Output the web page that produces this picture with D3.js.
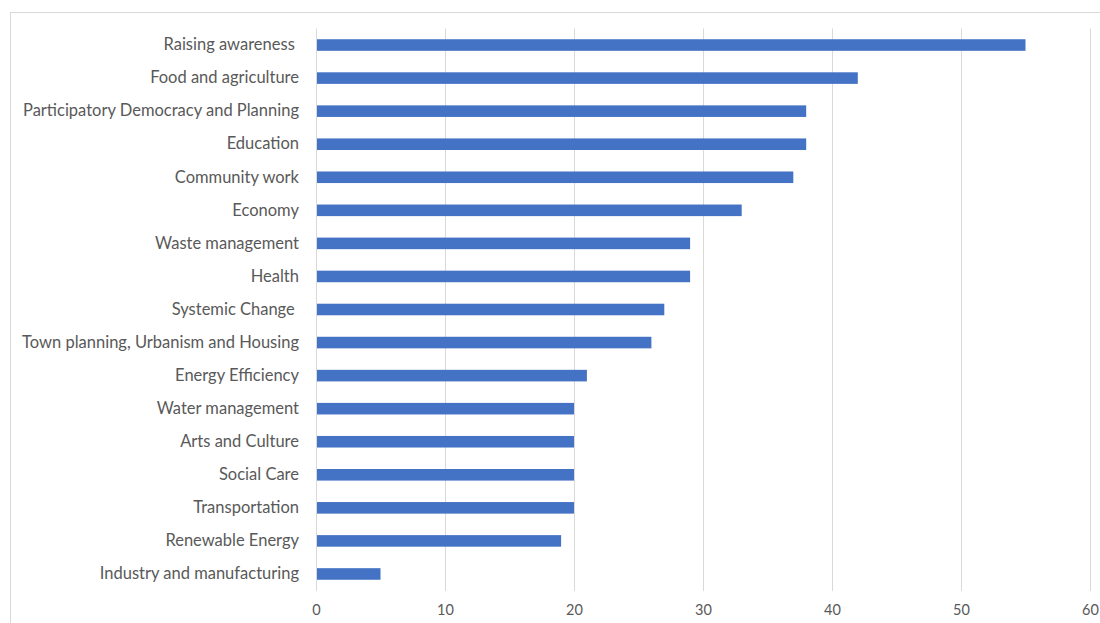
<!DOCTYPE html>
<html>
<head>
<meta charset="utf-8">
<script src="https://cdn.jsdelivr.net/npm/d3@7"></script>
<style>
  html, body { margin: 0; padding: 0; background: #fff; }
  svg { display: block; }
  text { font-family: Lato, "Open Sans", sans-serif; fill: #595959; }
</style>
</head>
<body>
<svg id="chart" width="1100" height="623"></svg>
<script>
// Themes, top to bottom
const categories = [
  "Raising awareness ",
  "Food and agriculture",
  "Participatory Democracy and Planning",
  "Education",
  "Community work",
  "Economy",
  "Waste management",
  "Health",
  "Systemic Change ",
  "Town planning, Urbanism and Housing",
  "Energy Efficiency",
  "Water management",
  "Arts and Culture",
  "Social Care",
  "Transportation",
  "Renewable Energy",
  "Industry and manufacturing"
];
const counts = [55, 42, 38, 38, 37, 33, 29, 29, 27, 26, 21, 20, 20, 20, 20, 19, 5];
const tickValues = [0, 10, 20, 30, 40, 50, 60];

const svg = d3.select("#chart");

// chart frame
svg.append("rect")
  .attr("x", 10.5).attr("y", 12.5)
  .attr("width", 1100).attr("height", 620)
  .attr("fill", "none").attr("stroke", "#d9d9d9").attr("stroke-width", 1);

const x = d3.scaleLinear().domain([0, 60]).range([316, 1090]);
const y = d3.scaleBand().domain(categories).range([28.5, 590.5]).paddingInner(0.65).paddingOuter(0.325);

// vertical gridlines
svg.append("g")
  .selectAll("line")
  .data(tickValues)
  .join("line")
  .attr("x1", d => Math.round(x(d)) + 0.5)
  .attr("x2", d => Math.round(x(d)) + 0.5)
  .attr("y1", 28.5).attr("y2", 591)
  .attr("stroke", "#d9d9d9").attr("stroke-width", 1);

// bars
svg.append("g")
  .selectAll("rect")
  .data(categories.map((c, i) => ({ c, v: counts[i] })))
  .join("rect")
  .attr("x", x(0) + 1)
  .attr("y", d => y(d.c))
  .attr("width", d => x(d.v) - x(0) - 1)
  .attr("height", y.bandwidth())
  .attr("fill", "#4472c4");

// category axis labels (trailing spaces kept)
const yAxis = d3.axisLeft(y).tickSize(0).tickPadding(17);
const gy = svg.append("g").attr("transform", `translate(${x(0)},0)`).call(yAxis);
gy.select(".domain").remove();
gy.selectAll("text")
  .style("font-family", "Lato, 'Open Sans', sans-serif")
  .style("font-size", "16.5px")
  .style("white-space", "pre")
  .attr("fill", "#595959");

// value axis labels
const xAxis = d3.axisBottom(x).tickValues(tickValues).tickSize(0).tickPadding(0);
const gx = svg.append("g").attr("transform", "translate(0,605)").call(xAxis);
gx.select(".domain").remove();
gx.selectAll("text")
  .style("font-family", "Lato, 'Open Sans', sans-serif")
  .style("font-size", "14.5px")
  .attr("fill", "#595959");
</script>
</body>
</html>
